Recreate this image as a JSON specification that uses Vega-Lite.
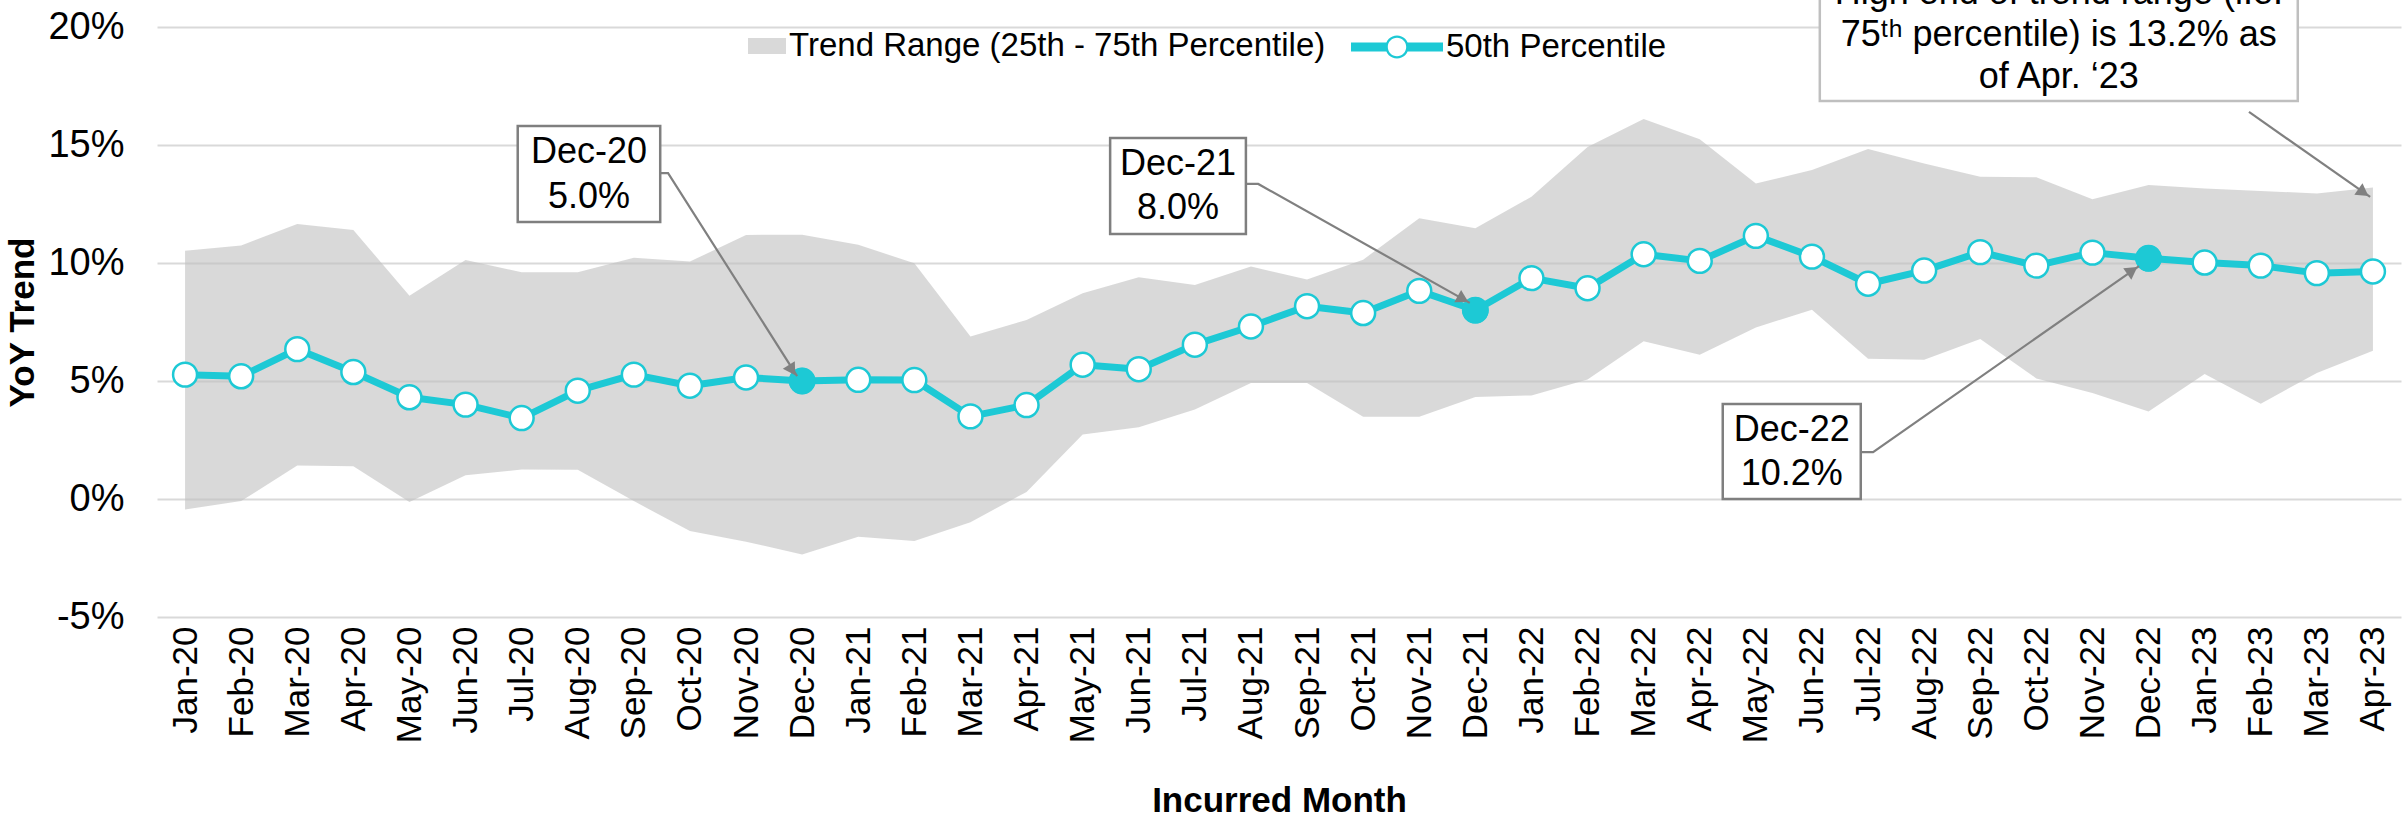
{
  "$schema": "https://vega.github.io/schema/vega-lite/v6.json",
  "width": 2244,
  "height": 590,
  "autosize": {"type": "none"},
  "padding": {"left": 157, "top": 27, "right": 6, "bottom": 205},
  "background": "white",
  "config": {
    "view": {"stroke": null},
    "font": "Liberation Sans, Arial, sans-serif",
    "axis": {"labelFont": "Liberation Sans, Arial, sans-serif", "titleFont": "Liberation Sans, Arial, sans-serif", "labelColor": "#000000", "titleColor": "#000000"},
    "legend": {"labelFont": "Liberation Sans, Arial, sans-serif", "labelColor": "#000000", "labelLimit": 0}
  },
  "datasets": {
    "main": [
      {"m": "Jan-20", "i": 0, "p25": -0.44, "p50": 5.27, "p75": 10.52},
      {"m": "Feb-20", "i": 1, "p25": -0.09, "p50": 5.2, "p75": 10.74},
      {"m": "Mar-20", "i": 2, "p25": 1.42, "p50": 6.35, "p75": 11.65},
      {"m": "Apr-20", "i": 3, "p25": 1.39, "p50": 5.38, "p75": 11.4},
      {"m": "May-20", "i": 4, "p25": -0.13, "p50": 4.31, "p75": 8.61},
      {"m": "Jun-20", "i": 5, "p25": 1.01, "p50": 4.0, "p75": 10.13},
      {"m": "Jul-20", "i": 6, "p25": 1.25, "p50": 3.43, "p75": 9.61},
      {"m": "Aug-20", "i": 7, "p25": 1.24, "p50": 4.59, "p75": 9.61},
      {"m": "Sep-20", "i": 8, "p25": -0.09, "p50": 5.27, "p75": 10.22},
      {"m": "Oct-20", "i": 9, "p25": -1.36, "p50": 4.8, "p75": 10.06},
      {"m": "Nov-20", "i": 10, "p25": -1.81, "p50": 5.15, "p75": 11.19},
      {"m": "Dec-20", "i": 11, "p25": -2.35, "p50": 5.0, "p75": 11.2},
      {"m": "Jan-21", "i": 12, "p25": -1.6, "p50": 5.05, "p75": 10.77},
      {"m": "Feb-21", "i": 13, "p25": -1.78, "p50": 5.04, "p75": 9.99},
      {"m": "Mar-21", "i": 14, "p25": -0.98, "p50": 3.5, "p75": 6.89},
      {"m": "Apr-21", "i": 15, "p25": 0.3, "p50": 3.98, "p75": 7.59},
      {"m": "May-21", "i": 16, "p25": 2.73, "p50": 5.69, "p75": 8.72},
      {"m": "Jun-21", "i": 17, "p25": 3.04, "p50": 5.5, "p75": 9.4},
      {"m": "Jul-21", "i": 18, "p25": 3.79, "p50": 6.54, "p75": 9.07},
      {"m": "Aug-21", "i": 19, "p25": 4.91, "p50": 7.31, "p75": 9.85},
      {"m": "Sep-21", "i": 20, "p25": 4.91, "p50": 8.17, "p75": 9.3},
      {"m": "Oct-21", "i": 21, "p25": 3.48, "p50": 7.88, "p75": 10.14},
      {"m": "Nov-21", "i": 22, "p25": 3.48, "p50": 8.82, "p75": 11.9},
      {"m": "Dec-21", "i": 23, "p25": 4.32, "p50": 8.0, "p75": 11.47},
      {"m": "Jan-22", "i": 24, "p25": 4.39, "p50": 9.36, "p75": 12.81},
      {"m": "Feb-22", "i": 25, "p25": 5.06, "p50": 8.93, "p75": 14.92},
      {"m": "Mar-22", "i": 26, "p25": 6.68, "p50": 10.37, "p75": 16.1},
      {"m": "Apr-22", "i": 27, "p25": 6.11, "p50": 10.09, "p75": 15.24},
      {"m": "May-22", "i": 28, "p25": 7.27, "p50": 11.15, "p75": 13.37},
      {"m": "Jun-22", "i": 29, "p25": 8.02, "p50": 10.27, "p75": 13.94},
      {"m": "Jul-22", "i": 30, "p25": 5.94, "p50": 9.12, "p75": 14.83},
      {"m": "Aug-22", "i": 31, "p25": 5.9, "p50": 9.68, "p75": 14.22},
      {"m": "Sep-22", "i": 32, "p25": 6.78, "p50": 10.46, "p75": 13.65},
      {"m": "Oct-22", "i": 33, "p25": 5.11, "p50": 9.89, "p75": 13.63},
      {"m": "Nov-22", "i": 34, "p25": 4.49, "p50": 10.44, "p75": 12.7},
      {"m": "Dec-22", "i": 35, "p25": 3.71, "p50": 10.2, "p75": 13.3},
      {"m": "Jan-23", "i": 36, "p25": 5.3, "p50": 10.02, "p75": 13.16},
      {"m": "Feb-23", "i": 37, "p25": 4.04, "p50": 9.89, "p75": 13.05},
      {"m": "Mar-23", "i": 38, "p25": 5.34, "p50": 9.57, "p75": 12.95},
      {"m": "Apr-23", "i": 39, "p25": 6.28, "p50": 9.64, "p75": 13.2}
    ],
    "boxes": [
      {"kind": "dec", "i": 5.93, "i2": 8.47, "v": 15.81, "v2": 11.74},
      {"kind": "dec", "i": 16.49, "i2": 18.91, "v": 15.30, "v2": 11.23},
      {"kind": "dec", "i": 27.41, "i2": 29.87, "v": 4.03, "v2": 0.0},
      {"kind": "note", "i": 29.14, "i2": 37.66, "v": 22.42, "v2": 16.86}
    ],
    "texts": [
      {"t": "Dec-20", "i": 7.20, "v": 14.70},
      {"t": "5.0%", "i": 7.20, "v": 12.80},
      {"t": "Dec-21", "i": 17.70, "v": 14.19},
      {"t": "8.0%", "i": 17.70, "v": 12.33},
      {"t": "Dec-22", "i": 28.64, "v": 2.92},
      {"t": "10.2%", "i": 28.64, "v": 1.04},
      {"t": "High end of trend range (i.e.", "i": 33.40, "v": 21.44},
      {"t": "75ᵗʰ percentile) is 13.2% as", "i": 33.40, "v": 19.66},
      {"t": "of Apr. ‘23", "i": 33.40, "v": 17.88}
    ],
    "callouts": [
      {"id": "a", "k": 0, "i": 8.43, "v": 13.81},
      {"id": "a", "k": 1, "i": 8.61, "v": 13.81},
      {"id": "a", "k": 2, "i": 10.91, "v": 5.21},
      {"id": "b", "k": 0, "i": 18.91, "v": 13.35},
      {"id": "b", "k": 1, "i": 19.13, "v": 13.35},
      {"id": "b", "k": 2, "i": 22.90, "v": 8.31},
      {"id": "c", "k": 0, "i": 29.87, "v": 1.99},
      {"id": "c", "k": 1, "i": 30.09, "v": 1.99},
      {"id": "c", "k": 2, "i": 34.83, "v": 9.87},
      {"id": "d", "k": 0, "i": 36.79, "v": 16.40},
      {"id": "d", "k": 1, "i": 38.95, "v": 12.80}
    ],
    "arrows": [
      {"id": "a", "i": 10.82, "v": 5.46},
      {"id": "b", "i": 22.78, "v": 8.47},
      {"id": "c", "i": 34.71, "v": 9.68},
      {"id": "d", "i": 38.83, "v": 12.99}
    ]
  },
  "layer": [
    {
      "data": {"name": "main"},
      "mark": {"type": "area", "fillOpacity": 0.6},
      "encoding": {
        "x": {
          "field": "i", "type": "quantitative",
          "scale": {"domain": [-0.5, 39.5], "nice": false, "zero": false},
          "axis": {
            "values": [0,1,2,3,4,5,6,7,8,9,10,11,12,13,14,15,16,17,18,19,20,21,22,23,24,25,26,27,28,29,30,31,32,33,34,35,36,37,38,39],
            "labelExpr": "['Jan-20','Feb-20','Mar-20','Apr-20','May-20','Jun-20','Jul-20','Aug-20','Sep-20','Oct-20','Nov-20','Dec-20','Jan-21','Feb-21','Mar-21','Apr-21','May-21','Jun-21','Jul-21','Aug-21','Sep-21','Oct-21','Nov-21','Dec-21','Jan-22','Feb-22','Mar-22','Apr-22','May-22','Jun-22','Jul-22','Aug-22','Sep-22','Oct-22','Nov-22','Dec-22','Jan-23','Feb-23','Mar-23','Apr-23'][datum.value]",
            "labelAngle": -90, "labelAlign": "right", "labelBaseline": "middle",
            "labelFontSize": 35, "labelPadding": 9, "labelOverlap": false, "labelBound": false, "labelFlush": false,
            "domain": false, "ticks": false, "grid": false,
            "title": "Incurred Month", "titleFontSize": 35, "titleFontWeight": "bold",
            "titleX": 1122, "titleY": 183, "titleAlign": "center", "titleBaseline": "middle"
          }
        },
        "y": {
          "field": "p25", "type": "quantitative",
          "scale": {"domain": [-5, 20], "nice": false, "zero": false},
          "axis": {
            "values": [-5, 0, 5, 10, 15, 20],
            "labelExpr": "datum.value + '%'",
            "labelFontSize": 38, "labelPadding": 33,
            "domain": false, "ticks": false,
            "grid": true, "gridColor": "#D9D9D9", "gridWidth": 2,
            "title": "YoY Trend", "titleFontSize": 35, "titleFontWeight": "bold",
            "titleX": -135, "titleY": 295, "titleAngle": -90, "titleAlign": "center", "titleBaseline": "middle"
          }
        },
        "y2": {"field": "p75"},
        "fill": {
          "datum": "Trend Range (25th - 75th Percentile)", "type": "nominal",
          "scale": {"range": ["#BFBFBF"]},
          "legend": {
            "title": null, "orient": "none", "legendX": 591, "legendY": 0,
            "symbolType": "M-1,-0.42H1V0.42H-1Z", "symbolSize": 1444, "symbolOpacity": 0.6,
            "symbolStrokeWidth": 0, "labelFontSize": 33, "labelOffset": 3, "labelLimit": 0
          }
        }
      }
    },
    {
      "data": {"name": "main"},
      "mark": {"type": "line", "strokeWidth": 7, "strokeJoin": "round"},
      "encoding": {
        "x": {"field": "i", "type": "quantitative", "scale": {"domain": [-0.5, 39.5], "nice": false, "zero": false}},
        "y": {"field": "p50", "type": "quantitative", "scale": {"domain": [-5, 20], "nice": false, "zero": false}},
        "stroke": {
          "datum": "50th Percentile", "type": "nominal",
          "scale": {"range": ["#1DC9D5"]},
          "legend": {
            "title": null, "orient": "none", "legendX": 1194, "legendY": -26,
            "symbolType": "M-1,-0.1H-0.23V0.1H-1Z M0.23,-0.1H1V0.1H0.23Z M0.25,0A0.25,0.25 0 1,1 -0.25,0A0.25,0.25 0 1,1 0.25,0Z M0.2,0A0.2,0.2 0 1,0 -0.2,0A0.2,0.2 0 1,0 0.2,0Z",
            "symbolSize": 8464, "symbolStrokeWidth": 0, "symbolFillColor": "#1DC9D5",
            "labelFontSize": 33, "labelOffset": 3, "labelLimit": 0,
            "encode": {"symbols": {"update": {"fill": {"value": "#1DC9D5"}, "strokeWidth": {"value": 0}, "opacity": {"value": 1}}}}
          }
        }
      }
    },
    {
      "data": {"name": "main"},
      "mark": {"type": "point", "shape": "circle", "filled": true, "fill": "white", "stroke": "#1DC9D5", "strokeWidth": 2.5, "size": 573, "opacity": 1},
      "encoding": {
        "x": {"field": "i", "type": "quantitative", "scale": {"domain": [-0.5, 39.5], "nice": false, "zero": false}},
        "y": {"field": "p50", "type": "quantitative", "scale": {"domain": [-5, 20], "nice": false, "zero": false}}
      }
    },
    {
      "data": {"name": "main"},
      "transform": [{"filter": {"field": "m", "oneOf": ["Dec-20", "Dec-21", "Dec-22"]}}],
      "mark": {"type": "point", "shape": "circle", "filled": true, "fill": "#1DC9D5", "strokeWidth": 0, "size": 720, "opacity": 1},
      "encoding": {
        "x": {"field": "i", "type": "quantitative", "scale": {"domain": [-0.5, 39.5], "nice": false, "zero": false}},
        "y": {"field": "p50", "type": "quantitative", "scale": {"domain": [-5, 20], "nice": false, "zero": false}}
      }
    },
    {
      "data": {"name": "callouts"},
      "mark": {"type": "line", "stroke": "#808080", "strokeWidth": 2.2},
      "encoding": {
        "x": {"field": "i", "type": "quantitative", "scale": {"domain": [-0.5, 39.5], "nice": false, "zero": false}},
        "y": {"field": "v", "type": "quantitative", "scale": {"domain": [-5, 20], "nice": false, "zero": false}},
        "detail": {"field": "id"},
        "order": {"field": "k"}
      }
    },
    {
      "data": {"name": "arrows"},
      "transform": [{"filter": {"field": "id", "equal": "a"}}],
      "mark": {"type": "point", "shape": "triangle-up", "filled": true, "fill": "#808080", "strokeWidth": 0, "size": 200, "angle": 147.9, "opacity": 1},
      "encoding": {
        "x": {"field": "i", "type": "quantitative", "scale": {"domain": [-0.5, 39.5], "nice": false, "zero": false}},
        "y": {"field": "v", "type": "quantitative", "scale": {"domain": [-5, 20], "nice": false, "zero": false}}
      }
    },
    {
      "data": {"name": "arrows"},
      "transform": [{"filter": {"field": "id", "equal": "b"}}],
      "mark": {"type": "point", "shape": "triangle-up", "filled": true, "fill": "#808080", "strokeWidth": 0, "size": 200, "angle": 119.3, "opacity": 1},
      "encoding": {
        "x": {"field": "i", "type": "quantitative", "scale": {"domain": [-0.5, 39.5], "nice": false, "zero": false}},
        "y": {"field": "v", "type": "quantitative", "scale": {"domain": [-5, 20], "nice": false, "zero": false}}
      }
    },
    {
      "data": {"name": "arrows"},
      "transform": [{"filter": {"field": "id", "equal": "c"}}],
      "mark": {"type": "point", "shape": "triangle-up", "filled": true, "fill": "#808080", "strokeWidth": 0, "size": 200, "angle": 55, "opacity": 1},
      "encoding": {
        "x": {"field": "i", "type": "quantitative", "scale": {"domain": [-0.5, 39.5], "nice": false, "zero": false}},
        "y": {"field": "v", "type": "quantitative", "scale": {"domain": [-5, 20], "nice": false, "zero": false}}
      }
    },
    {
      "data": {"name": "arrows"},
      "transform": [{"filter": {"field": "id", "equal": "d"}}],
      "mark": {"type": "point", "shape": "triangle-up", "filled": true, "fill": "#808080", "strokeWidth": 0, "size": 200, "angle": 125.1, "opacity": 1},
      "encoding": {
        "x": {"field": "i", "type": "quantitative", "scale": {"domain": [-0.5, 39.5], "nice": false, "zero": false}},
        "y": {"field": "v", "type": "quantitative", "scale": {"domain": [-5, 20], "nice": false, "zero": false}}
      }
    },
    {
      "data": {"name": "boxes"},
      "transform": [{"filter": {"field": "kind", "equal": "dec"}}],
      "mark": {"type": "rect", "fill": "white", "stroke": "#7F7F7F", "strokeWidth": 2.5},
      "encoding": {
        "x": {"field": "i", "type": "quantitative", "scale": {"domain": [-0.5, 39.5], "nice": false, "zero": false}},
        "x2": {"field": "i2"},
        "y": {"field": "v", "type": "quantitative", "scale": {"domain": [-5, 20], "nice": false, "zero": false}},
        "y2": {"field": "v2"}
      }
    },
    {
      "data": {"name": "boxes"},
      "transform": [{"filter": {"field": "kind", "equal": "note"}}],
      "mark": {"type": "rect", "fill": "white", "stroke": "#BFBFBF", "strokeWidth": 2.5},
      "encoding": {
        "x": {"field": "i", "type": "quantitative", "scale": {"domain": [-0.5, 39.5], "nice": false, "zero": false}},
        "x2": {"field": "i2"},
        "y": {"field": "v", "type": "quantitative", "scale": {"domain": [-5, 20], "nice": false, "zero": false}},
        "y2": {"field": "v2"}
      }
    },
    {
      "data": {"name": "texts"},
      "mark": {"type": "text", "fontSize": 36, "align": "center", "baseline": "middle", "color": "#000000", "font": "Liberation Sans, Arial, sans-serif"},
      "encoding": {
        "x": {"field": "i", "type": "quantitative", "scale": {"domain": [-0.5, 39.5], "nice": false, "zero": false}},
        "y": {"field": "v", "type": "quantitative", "scale": {"domain": [-5, 20], "nice": false, "zero": false}},
        "text": {"field": "t"}
      }
    }
  ]
}
